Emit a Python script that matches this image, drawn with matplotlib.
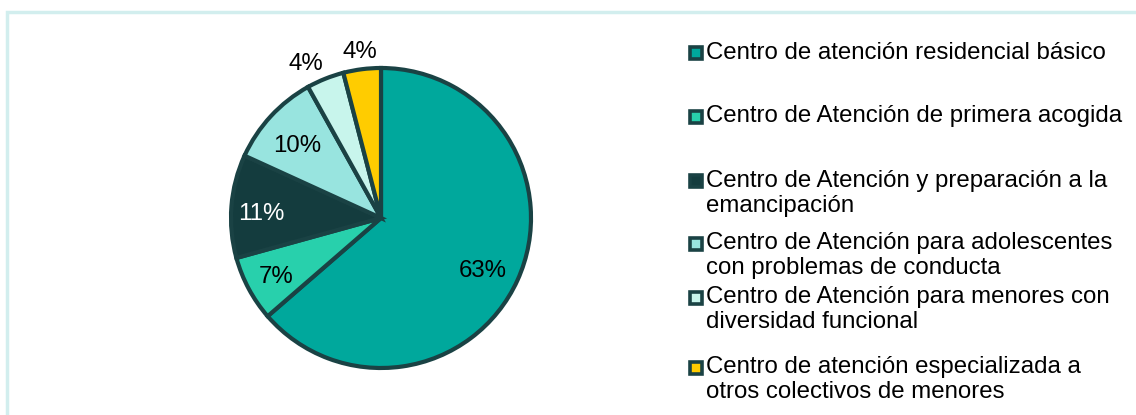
import matplotlib.pyplot as plt
from matplotlib.patches import Rectangle

plt.rcParams['font.family'] = ['Liberation Sans', 'DejaVu Sans']

categorias = [
    'Centro de atención residencial básico',
    'Centro de Atención de primera acogida',
    'Centro de Atención y preparación a la\nemancipación',
    'Centro de Atención para adolescentes\ncon problemas de conducta',
    'Centro de Atención para menores con\ndiversidad funcional',
    'Centro de atención especializada a\notros colectivos de menores',
]
porcentajes = [63, 7, 11, 10, 4, 4]
colores = ['#00a89c', '#28d0ac', '#143c3e', '#98e4df', '#c8f5ec', '#ffcc00']
borde = '#1a4244'

fig = plt.figure(figsize=(11.36, 4.15), dpi=100)
ax = fig.add_axes([0, 0, 1, 1])
ax.set_xlim(0, 1136)
ax.set_ylim(415, 0)
ax.axis('off')

# marco exterior
fig.patches.append(Rectangle((7 / 1136, -0.1), 1.2, (415 - 12) / 415 + 0.1,
                             transform=fig.transFigure, fill=False,
                             edgecolor='#d2eeee', linewidth=2.5))

# tarta (radio ~150 px, centro en 381,218)
pax = fig.add_axes([(381 - 151) / 1136, 1 - (218 + 151) / 415, 302 / 1136, 302 / 415])
wedges, _ = pax.pie(porcentajes, colors=colores, startangle=90, counterclock=False,
                    wedgeprops=dict(edgecolor=borde, linewidth=3))
pax.set_xlim(-151 / 150, 151 / 150)
pax.set_ylim(-151 / 150, 151 / 150)
pax.set_aspect('equal')

# etiquetas de porcentaje
etq_pos = [(0.68, -0.35), (-0.70, -0.39), (-0.80, 0.03), (-0.56, 0.48), (-0.50, 1.03), (-0.14, 1.11)]
for p, (x, y), c in zip(porcentajes, etq_pos, colores):
    color_txt = 'white' if c == '#143c3e' else 'black'
    pax.text(x, y, f'{p}%', ha='center', va='center', fontsize=17.3, color=color_txt,
             clip_on=False)

# leyenda
ys = [53, 116, 181, 243, 297, 367]
for cat, c, y in zip(categorias, colores, ys):
    ax.add_patch(Rectangle((690, y - 5.5), 12, 12, facecolor=c, edgecolor=borde, linewidth=2.6))
    for i, linea in enumerate(cat.split('\n')):
        ax.text(706, y + i * 25, linea, ha='left', va='center', fontsize=17.3, color='black')

fig.savefig('out.png', dpi=100)
